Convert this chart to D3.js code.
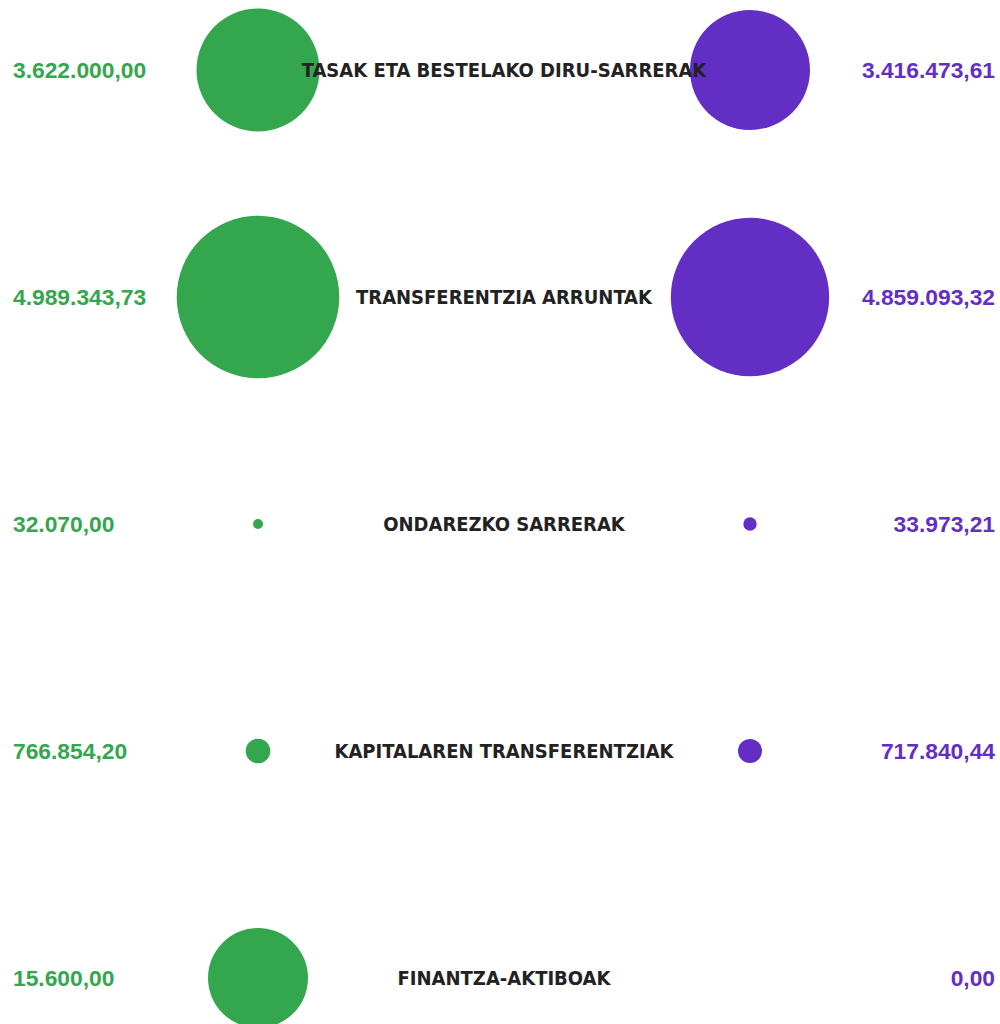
<!DOCTYPE html>
<html>
<head>
<meta charset="utf-8">
<script src="https://cdn.jsdelivr.net/npm/d3@7"></script>
<style>
  body { margin: 0; background: #fff; }
  .label { font-family: "DejaVu Sans Condensed", "DejaVu Sans", sans-serif; font-weight: bold; font-stretch: condensed; }
  .value { font-family: "Liberation Sans", Arial, sans-serif; font-weight: 700; }
</style>
</head>
<body>
<svg id="chart" width="1000" height="1024"></svg>
<script>
// kategoriak (diru-sarrerak)
const categories = [
    "TASAK ETA BESTELAKO DIRU-SARRERAK",
    "TRANSFERENTZIA ARRUNTAK",
    "ONDAREZKO SARRERAK",
    "KAPITALAREN TRANSFERENTZIAK",
    "FINANTZA-AKTIBOAK"
];

// ezkerreko zutabea (berdea) eta eskuinekoa (morea)
const greenValues = [3622000.00, 4989343.73, 32070.00, 766854.20, 15600.00];
const purpleValues = [3416473.61, 4859093.32, 33973.21, 717840.44, 0.00];

// zirkuluen tamaina irudian ikusten dena (balioen unitatetan, gutxi gorabehera)
const greenBubble = [3774000, 4989343.73, 306900, 754800, 3068000];
const purpleBubble = [3682000, 4859093.32, 411200, 736400, 0];

const svg = d3.select("#chart");
const width = +svg.attr("width");
const height = +svg.attr("height");

let green = "#34a64e";
let purple = "#632ec4";

let yScale = d3.scalePoint()
    .domain(categories)
    .range([70, 978]);

let xScale = d3.scalePoint()
    .domain(["green", "purple"])
    .range([258, 750]);

let rScale = d3.scaleLinear()
    .domain([0, d3.max(greenBubble.concat(purpleBubble))])
    .range([0, 81.3]);

let fmt = d3.formatLocale({decimal: ",", thousands: ".", grouping: [3], currency: ["", ""]}).format(",.2f");

let rows = categories.map((c, i) => ({
    cat: c,
    green: greenValues[i],
    purple: purpleValues[i],
    gb: greenBubble[i],
    pb: purpleBubble[i]
}));

let row = svg.selectAll(".row")
    .data(rows)
    .enter().append("g")
    .attr("class", "row")
    .attr("transform", d => "translate(0," + yScale(d.cat) + ")");

row.append("circle")
    .attr("cx", xScale("green"))
    .attr("r", d => rScale(d.gb))
    .style("fill", green);

row.append("circle")
    .attr("cx", xScale("purple"))
    .attr("r", d => rScale(d.pb))
    .style("fill", purple);

row.append("text")
    .attr("class", "value")
    .attr("x", 13)
    .attr("dy", "0.36em")
    .style("font-size", "22.8px")
    .style("fill", green)
    .text(d => fmt(d.green));

row.append("text")
    .attr("class", "value")
    .attr("x", width - 5)
    .attr("dy", "0.36em")
    .style("text-anchor", "end")
    .style("font-size", "22.8px")
    .style("fill", purple)
    .text(d => fmt(d.purple));

row.append("text")
    .attr("class", "label")
    .attr("x", (xScale("green") + xScale("purple")) / 2)
    .attr("dy", "0.36em")
    .style("text-anchor", "middle")
    .style("font-size", "20px")
    .style("fill", "#222")
    .text(d => d.cat);
</script>
</body>
</html>
